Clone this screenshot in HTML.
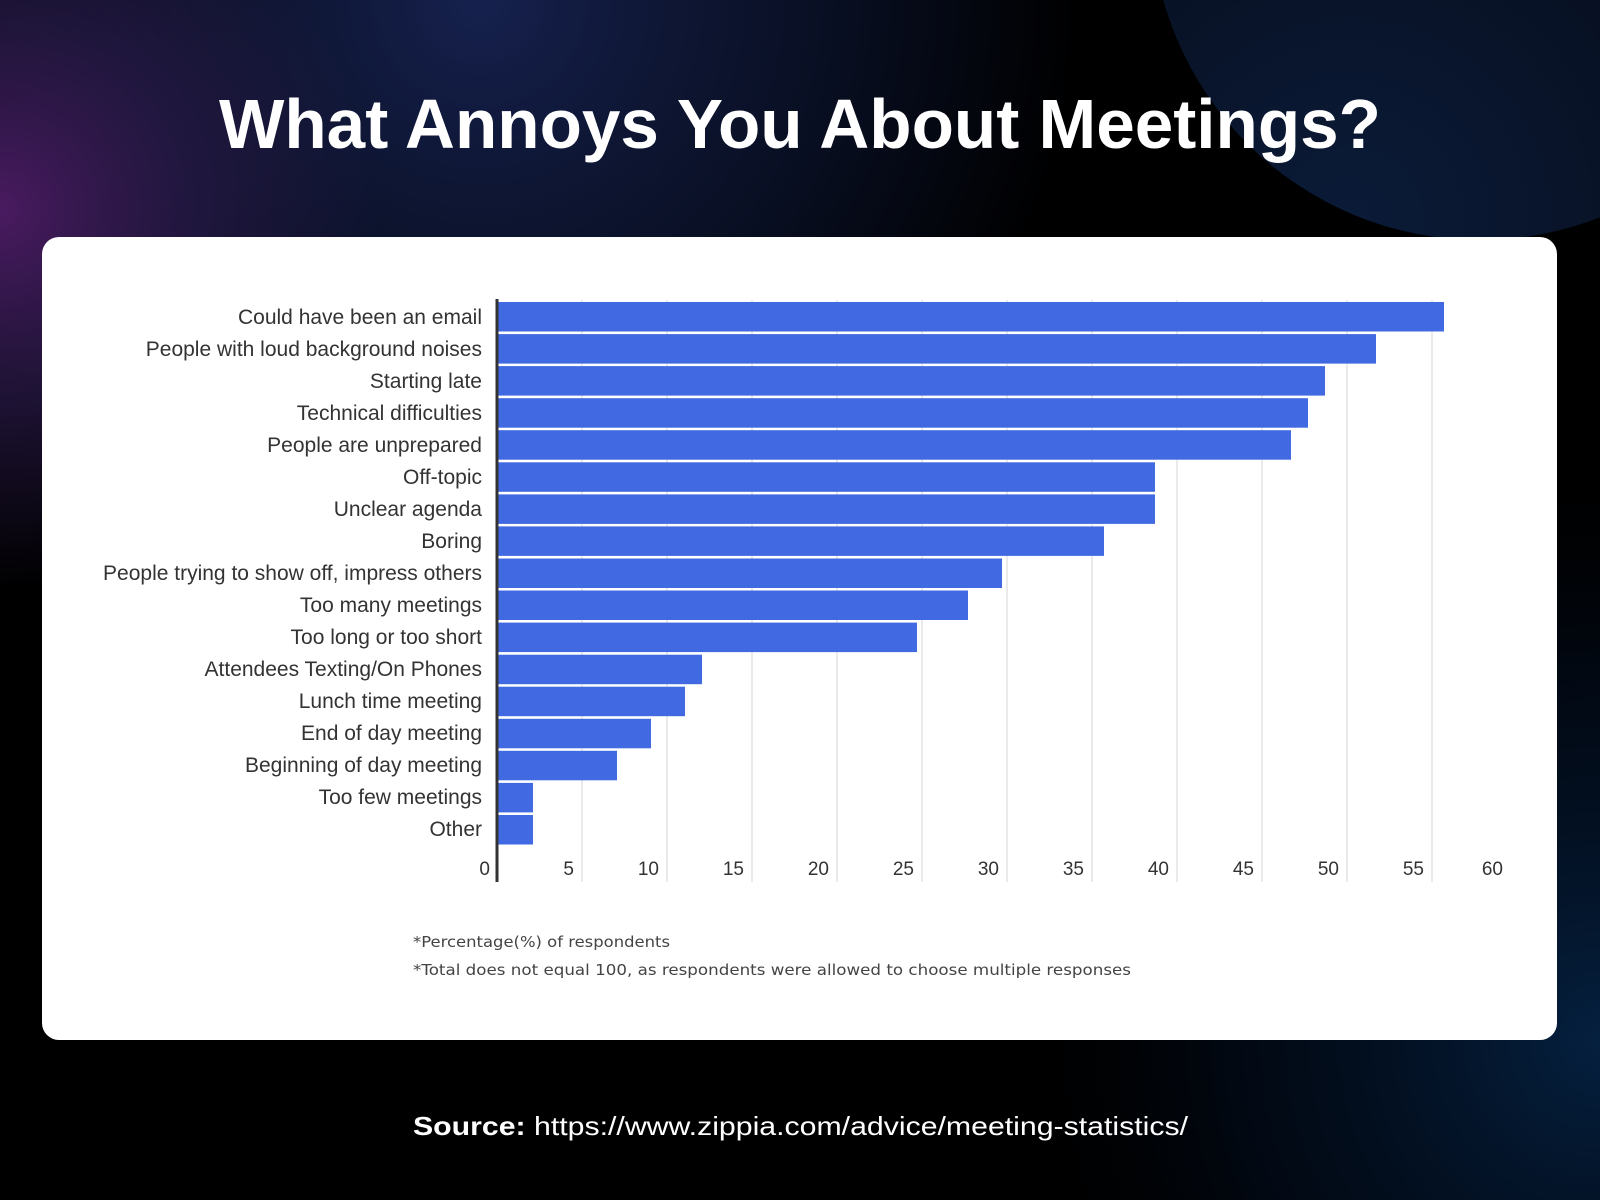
<!DOCTYPE html>
<html><head><meta charset="utf-8"><style>
html,body{margin:0;padding:0;width:1600px;height:1200px;overflow:hidden;background:#000}
svg{display:block}
</style></head><body>
<svg width="1600" height="1200" viewBox="0 0 1600 1200" xmlns="http://www.w3.org/2000/svg">
<defs>
<radialGradient id="pur" cx="0" cy="210" r="380" gradientUnits="userSpaceOnUse">
<stop offset="0" stop-color="#4a1a60"/><stop offset="0.5" stop-color="#2a1a4a" stop-opacity="0.7"/><stop offset="1" stop-color="#2a1a4a" stop-opacity="0"/></radialGradient>
<radialGradient id="nav" cx="480" cy="0" r="600" gradientUnits="userSpaceOnUse">
<stop offset="0" stop-color="#16214e"/><stop offset="0.6" stop-color="#0e1838" stop-opacity="0.6"/><stop offset="1" stop-color="#0e1838" stop-opacity="0"/></radialGradient>
<radialGradient id="br" cx="1600" cy="1040" r="600" gradientUnits="userSpaceOnUse">
<stop offset="0" stop-color="#05203f"/><stop offset="0.6" stop-color="#031126" stop-opacity="0.5"/><stop offset="1" stop-color="#000" stop-opacity="0"/></radialGradient>
<radialGradient id="circ" cx="1350" cy="220" r="380" gradientUnits="userSpaceOnUse">
<stop offset="0" stop-color="#0a1b38"/><stop offset="1" stop-color="#080f20"/></radialGradient>
</defs>
<rect width="1600" height="1200" fill="#000"/>
<rect width="1600" height="1200" fill="url(#nav)"/>
<rect width="1600" height="1200" fill="url(#pur)"/>
<rect width="1600" height="1200" fill="url(#br)"/>
<circle cx="1480" cy="-89" r="329" fill="url(#circ)"/>
<text x="219" y="148" fill="#fff" font-family="Liberation Sans, sans-serif" font-weight="bold" font-size="70" textLength="1162" lengthAdjust="spacingAndGlyphs">What Annoys You About Meetings?</text>
<rect x="42" y="237" width="1515" height="803" rx="17" fill="#fff"/>
<g stroke="#e3e3e3" stroke-width="1.5">
<line x1="582" y1="300" x2="582" y2="882"/><line x1="667" y1="300" x2="667" y2="882"/>
<line x1="752" y1="300" x2="752" y2="882"/><line x1="837" y1="300" x2="837" y2="882"/>
<line x1="922" y1="300" x2="922" y2="882"/><line x1="1007" y1="300" x2="1007" y2="882"/>
<line x1="1092" y1="300" x2="1092" y2="882"/><line x1="1177" y1="300" x2="1177" y2="882"/>
<line x1="1262" y1="300" x2="1262" y2="882"/><line x1="1347" y1="300" x2="1347" y2="882"/>
<line x1="1432" y1="300" x2="1432" y2="882"/>
</g>
<g fill="#4169e1" transform="translate(0,2)">
<rect x="498" y="300" width="946" height="29.5"/>
<rect x="498" y="332.1" width="878" height="29.5"/>
<rect x="498" y="364.1" width="827" height="29.5"/>
<rect x="498" y="396.2" width="810" height="29.5"/>
<rect x="498" y="428.2" width="793" height="29.5"/>
<rect x="498" y="460.3" width="657" height="29.5"/>
<rect x="498" y="492.4" width="657" height="29.5"/>
<rect x="498" y="524.4" width="606" height="29.5"/>
<rect x="498" y="556.5" width="504" height="29.5"/>
<rect x="498" y="588.5" width="470" height="29.5"/>
<rect x="498" y="620.6" width="419" height="29.5"/>
<rect x="498" y="652.7" width="204" height="29.5"/>
<rect x="498" y="684.7" width="187" height="29.5"/>
<rect x="498" y="716.8" width="153" height="29.5"/>
<rect x="498" y="748.8" width="119" height="29.5"/>
<rect x="498" y="780.9" width="35" height="29.5"/>
<rect x="498" y="813" width="35" height="29.5"/>
</g>
<line x1="497" y1="299" x2="497" y2="882" stroke="#333" stroke-width="3"/>
<g font-family="Liberation Sans, Arial, sans-serif" font-size="21" fill="#333" text-anchor="end">
<text x="482" y="324">Could have been an email</text>
<text x="482" y="356">People with loud background noises</text>
<text x="482" y="388">Starting late</text>
<text x="482" y="420">Technical difficulties</text>
<text x="482" y="452">People are unprepared</text>
<text x="482" y="484">Off-topic</text>
<text x="482" y="516">Unclear agenda</text>
<text x="482" y="548">Boring</text>
<text x="482" y="580">People trying to show off, impress others</text>
<text x="482" y="612">Too many meetings</text>
<text x="482" y="644">Too long or too short</text>
<text x="482" y="676">Attendees Texting/On Phones</text>
<text x="482" y="708">Lunch time meeting</text>
<text x="482" y="740">End of day meeting</text>
<text x="482" y="772">Beginning of day meeting</text>
<text x="482" y="804">Too few meetings</text>
<text x="482" y="836">Other</text>
</g>
<g font-family="Liberation Sans, Arial, sans-serif" font-size="19" fill="#333" text-anchor="end">
<text x="490" y="875">0</text>
<text x="574" y="875">5</text>
<text x="659" y="875">10</text>
<text x="744" y="875">15</text>
<text x="829" y="875">20</text>
<text x="914" y="875">25</text>
<text x="999" y="875">30</text>
<text x="1084" y="875">35</text>
<text x="1169" y="875">40</text>
<text x="1254" y="875">45</text>
<text x="1339" y="875">50</text>
<text x="1424" y="875">55</text>
<text x="1503" y="875">60</text>
</g>
<g font-family="DejaVu Sans, sans-serif" font-size="15" fill="#444">
<text x="413" y="947" textLength="257" lengthAdjust="spacingAndGlyphs">*Percentage(%) of respondents</text>
<text x="413" y="975" textLength="718" lengthAdjust="spacingAndGlyphs">*Total does not equal 100, as respondents were allowed to choose multiple responses</text>
</g>
<text x="413" y="1135" fill="#fff" font-family="Liberation Sans, sans-serif" font-size="26" textLength="775" lengthAdjust="spacingAndGlyphs"><tspan font-weight="bold">Source:</tspan> https://www.zippia.com/advice/meeting-statistics/</text>
</svg>
</body></html>
